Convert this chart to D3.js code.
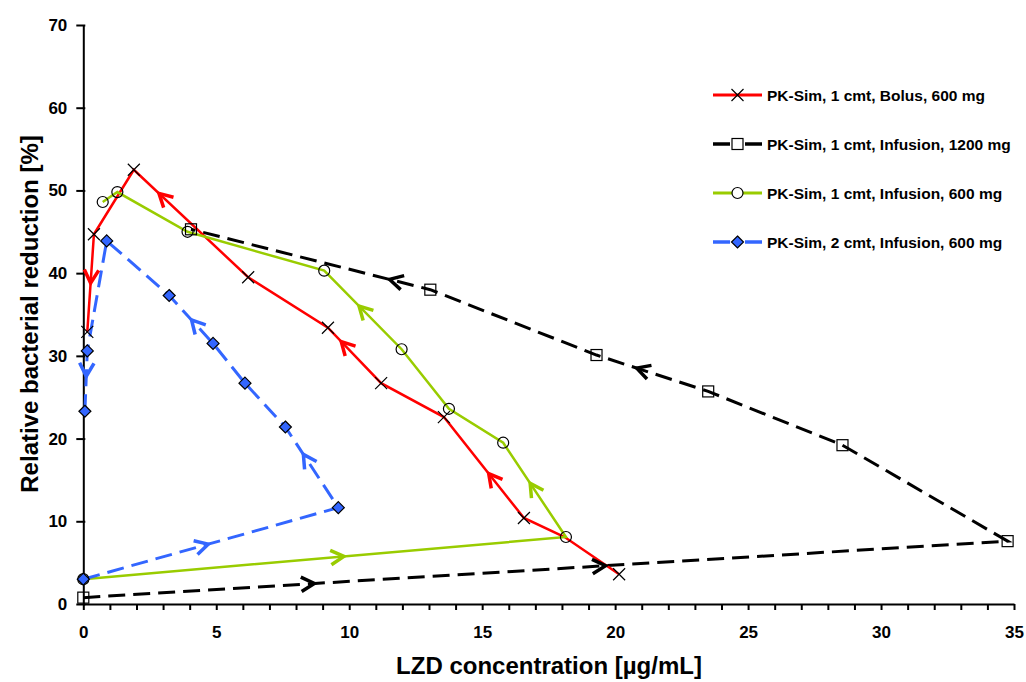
<!DOCTYPE html>
<meta charset="utf-8">
<style>
    body { margin: 0; background: #fff; }
    text { font-family: Arial, "Liberation Sans", sans-serif; font-weight: bold; }
    .axis .domain { stroke: #000; stroke-width: 2; }
    .axis .tick line { stroke: #000; stroke-width: 2; }
    .axis .tick text { font-size: 17px; fill: #000; }
</style>
<svg width="1026" height="682"></svg>
<script src="https://cdn.jsdelivr.net/npm/d3@7"></script>
<script>
    // series data: [concentration, reduction] in time order
    var bolus600 = [[20.15, 3.6], [18.1, 8.1], [16.57, 10.4], [13.56, 22.6], [11.2, 26.7], [9.2, 33.4],
        [6.2, 39.5], [1.9, 52.5], [0.4, 44.7], [0.15, 32.9]];
    var infusion1200 = [[0, 0.77], [34.76, 7.6], [28.55, 19.2], [23.5, 25.7], [19.3, 30.1], [13.05, 38.0], [4.05, 45.3]];
    var infusion600 = [[0, 3.0], [18.15, 8.1], [15.79, 19.5], [13.75, 23.6], [11.97, 30.8], [9.06, 40.3],
        [3.92, 45.0], [1.28, 49.8], [0.73, 48.6]];
    var twoCmt600 = [[0, 3.0], [9.59, 11.65], [7.6, 21.4], [6.08, 26.7], [4.88, 31.5], [3.23, 37.3],
        [0.88, 43.9], [0.15, 30.6], [0.06, 23.3]];

    // direction arrows: [segment start index, fraction along segment]
    var bolusArrows = [[2, 0.44], [4, 0.75], [6, 0.78], [8, 0.5]];
    var inf1200Arrows = [[0, 0.25], [0, 0.565], [3, 0.64], [5, 0.17]];
    var inf600Arrows = [[0, 0.54], [1, 0.57], [4, 0.55]];
    var twoCmtArrows = [[0, 0.49], [1, 0.66], [4, 0.49], [7, 0.42]];
    var bolusNoMarker = [1];

    var legendLabels = ["PK-Sim, 1 cmt, Bolus, 600 mg", "PK-Sim, 1 cmt, Infusion, 1200 mg",
        "PK-Sim, 1 cmt, Infusion, 600 mg", "PK-Sim, 2 cmt, Infusion, 600 mg"];
    var xTicks = d3.range(0, 36, 1);
    var yTicks = d3.range(0, 71, 10);

    var svg = d3.select("svg");
    var x = d3.scaleLinear().domain([0, 35]).range([83.3, 1014]);
    var y = d3.scaleLinear().domain([0, 70]).range([604, 25]);

    var series = [
        { data: bolus600, color: "#ff0000", dash: null, marker: "x", arrows: bolusArrows, skip: bolusNoMarker },
        { data: infusion1200, color: "#000000", dash: "17,8", marker: "square", arrows: inf1200Arrows, skip: [] },
        { data: infusion600, color: "#99cc00", dash: null, marker: "circle", arrows: inf600Arrows, skip: [] },
        { data: twoCmt600, color: "#3366ff", dash: "17,8", marker: "diamond", arrows: twoCmtArrows, skip: [] }
    ];
    var drawOrder = [1, 0, 2, 3];

    // axes
    var xAxis = d3.axisBottom(x).tickValues(xTicks).tickSize(6).tickSizeOuter(0).tickPadding(16)
        .tickFormat(function (d) { return d % 5 === 0 ? d : ""; });
    svg.append("g").attr("class", "axis").attr("transform", "translate(0," + y(0) + ")").call(xAxis);

    var yAxis = d3.axisLeft(y).tickValues(yTicks).tickSize(7).tickSizeOuter(0).tickPadding(9);
    var yg = svg.append("g").attr("class", "axis").attr("transform", "translate(" + x(0) + ",0)").call(yAxis);
    yg.selectAll(".tick line").attr("x2", -7).attr("x1", 2);

    svg.append("text").attr("x", 549).attr("y", 674).attr("text-anchor", "middle")
        .style("font-size", "24px").text("LZD concentration [µg/mL]");
    svg.append("text").attr("transform", "translate(38,314) rotate(-90)").attr("text-anchor", "middle")
        .style("font-size", "24px").text("Relative bacterial reduction [%]");

    var line = d3.line().x(function (d) { return x(d[0]); }).y(function (d) { return y(d[1]); });

    function drawMarker(g, type, px, py, fill) {
        if (type === "x") {
            g.append("path").attr("d", "M" + (px - 6) + "," + (py - 6) + "L" + (px + 6) + "," + (py + 6) +
                "M" + (px + 6) + "," + (py - 6) + "L" + (px - 6) + "," + (py + 6))
                .attr("stroke", "#000").attr("stroke-width", 1.2);
        } else if (type === "square") {
            g.append("rect").attr("x", px - 5.5).attr("y", py - 5.5).attr("width", 11).attr("height", 11)
                .attr("fill", fill || "none").attr("stroke", "#000").attr("stroke-width", 1.2);
        } else if (type === "circle") {
            g.append("circle").attr("cx", px).attr("cy", py).attr("r", 5.5)
                .attr("fill", fill || "none").attr("stroke", "#000").attr("stroke-width", 1.2);
        } else {
            g.append("path").attr("d", "M" + px + "," + (py - 6) + "L" + (px + 6) + "," + py + "L" + px + "," + (py + 6) +
                "L" + (px - 6) + "," + py + "Z")
                .attr("fill", "#3366ff").attr("stroke", "#000").attr("stroke-width", 1.2);
        }
    }

    function drawArrow(g, s, a) {
        var p0 = s.data[a[0]], p1 = s.data[a[0] + 1];
        var x0 = x(p0[0]), y0 = y(p0[1]), x1 = x(p1[0]), y1 = y(p1[1]);
        var tx = x0 + (x1 - x0) * a[1], ty = y0 + (y1 - y0) * a[1];
        var ang = Math.atan2(y1 - y0, x1 - x0);
        var len = 15, spread = 0.5;
        var l1 = [tx - len * Math.cos(ang - spread), ty - len * Math.sin(ang - spread)];
        var l2 = [tx - len * Math.cos(ang + spread), ty - len * Math.sin(ang + spread)];
        g.append("path").attr("d", "M" + l1 + "L" + tx + "," + ty + "L" + l2)
            .attr("fill", "none").attr("stroke", s.color).attr("stroke-width", 3.5)
            .attr("stroke-linecap", "butt").attr("stroke-linejoin", "miter");
    }

    var plot = svg.append("g");
    drawOrder.forEach(function (i) {
        var s = series[i];
        plot.append("path").datum(s.data).attr("d", line).attr("fill", "none")
            .attr("stroke", s.color).attr("stroke-width", s.dash ? 3 : 2.5)
            .attr("stroke-dasharray", s.dash);
    });
    drawOrder.forEach(function (i) {
        var s = series[i];
        s.arrows.forEach(function (a) { drawArrow(plot, s, a); });
    });
    drawOrder.forEach(function (i) {
        var s = series[i];
        s.data.forEach(function (d, j) {
            if (s.skip.indexOf(j) < 0) drawMarker(plot, s.marker, x(d[0]), y(d[1]));
        });
    });

    // legend
    var legend = svg.append("g");
    series.forEach(function (s, i) {
        var ly = 95 + i * 49;
        var row = legend.append("g");
        if (s.dash) {
            row.append("line").attr("x1", 713).attr("x2", 730).attr("y1", ly).attr("y2", ly)
                .attr("stroke", s.color).attr("stroke-width", 3.5);
            row.append("line").attr("x1", 745).attr("x2", 762).attr("y1", ly).attr("y2", ly)
                .attr("stroke", s.color).attr("stroke-width", 3.5);
        } else {
            row.append("line").attr("x1", 713).attr("x2", 762).attr("y1", ly).attr("y2", ly)
                .attr("stroke", s.color).attr("stroke-width", 3);
        }
        drawMarker(row, s.marker, 737.5, ly, "#fff");
        row.append("text").attr("x", 767).attr("y", ly + 5.5).style("font-size", "15.5px").text(legendLabels[i]);
    });
</script>
